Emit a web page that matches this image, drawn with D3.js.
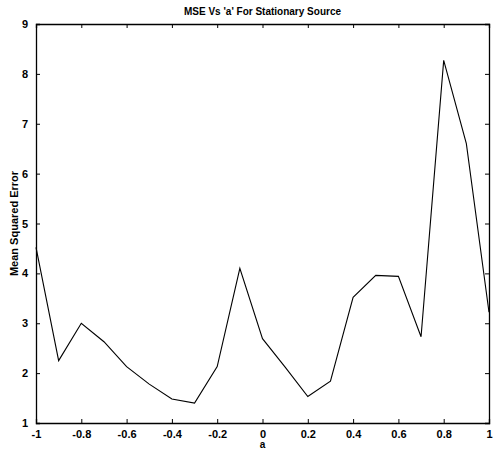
<!DOCTYPE html>
<html><head><meta charset="utf-8">
<script src="https://cdn.jsdelivr.net/npm/d3@7"></script>
<style>body{margin:0;background:#fff}svg text{font-family:"Liberation Sans",Arial,sans-serif;}</style>
</head><body><svg id="c" width="496" height="453"></svg>
<script>
const aValues = [-1,-0.9,-0.8,-0.7,-0.6,-0.5,-0.4,-0.3,-0.2,-0.1,0,0.1,0.2,0.3,0.4,0.5,0.6,0.7,0.8,0.9,1];
const mseValues = [4.52,2.25,3.0,2.63,2.13,1.78,1.48,1.40,2.13,4.1,2.69,2.12,1.53,1.84,3.52,3.96,3.94,2.73,8.27,6.6,3.22];
const xTicks = [-1,-0.8,-0.6,-0.4,-0.2,0,0.2,0.4,0.6,0.8,1];
const yTicks = [1,2,3,4,5,6,7,8,9];
const title = "MSE Vs 'a' For Stationary Source";
const xLabel = "a";
const yLabel = "Mean Squared Error";

const svg = d3.select("#c");
const L=36, R=489, T=24, B=423;
const x = d3.scaleLinear().domain([-1,1]).range([L,R]);
const y = d3.scaleLinear().domain([1,9]).range([B,T]);
const fmt = d => d===0 ? "0" : String(d).replace(/^(-?)0\./,"$1.").replace(/^(-?)\./,"$10.");

const gx = svg.append("g").attr("transform",`translate(0,${B})`)
  .call(d3.axisBottom(x).tickValues(xTicks).tickSize(-4).tickPadding(7).tickFormat(d=>String(d)));
const gxt = svg.append("g").attr("transform",`translate(0,${T})`)
  .call(d3.axisTop(x).tickValues(xTicks).tickSize(-4).tickFormat(""));
const gy = svg.append("g").attr("transform",`translate(${L},0)`)
  .call(d3.axisLeft(y).tickValues(yTicks).tickSize(-4).tickPadding(8));
const gyr = svg.append("g").attr("transform",`translate(${R},0)`)
  .call(d3.axisRight(y).tickValues(yTicks).tickSize(-4).tickFormat(""));
[gx,gxt,gy,gyr].forEach(g=>{
  g.select(".domain").attr("stroke","#000").attr("stroke-width",1.3);
  g.selectAll(".tick line").attr("stroke","#000");
  g.selectAll("text").attr("font-size",11).attr("font-weight","bold").attr("fill","#000")
   .attr("font-family","Liberation Sans, Arial, sans-serif");
});

svg.append("path").datum(aValues.map((a,i)=>[a,mseValues[i]]))
  .attr("fill","none").attr("stroke","#000").attr("stroke-width",1.1)
  .attr("d", d3.line().x(d=>x(d[0])).y(d=>y(d[1])));

svg.append("text").attr("x",(L+R)/2).attr("y",15).attr("text-anchor","middle")
  .attr("font-size",10).attr("font-weight","bold").text(title);
svg.append("text").attr("x",(L+R)/2).attr("y",448).attr("text-anchor","middle")
  .attr("font-size",10).attr("font-weight","bold").text(xLabel);
svg.append("text").attr("transform",`translate(18,${(T+B)/2}) rotate(-90)`).attr("text-anchor","middle")
  .attr("font-size",11).attr("font-weight","bold").text(yLabel);
</script></body></html>
